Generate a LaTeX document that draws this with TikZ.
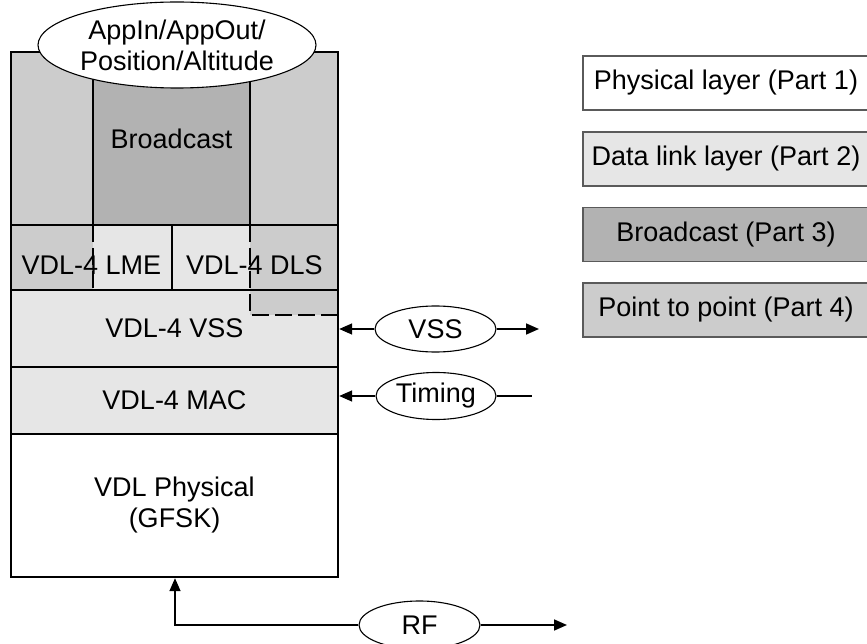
\documentclass[tikz,border=0pt]{standalone}
\usepackage{fontspec}
\setmainfont{Liberation Sans}
\usetikzlibrary{arrows.meta,shapes.geometric}
\definecolor{bcgray}{HTML}{B2B2B2}
\definecolor{ptpgray}{HTML}{CCCCCC}
\definecolor{dlgray}{HTML}{E6E6E6}
\definecolor{legline}{HTML}{5A5A5A}
\begin{document}
\begin{tikzpicture}[x=1pt,y=-1pt,
  font=\fontsize{27}{31}\selectfont,
  layer/.style={draw, line width=1.7pt, minimum width=327pt, inner sep=0pt, align=center},
  innerline/.style={line width=1.7pt},
  dashline/.style={line width=1.7pt, dash pattern=on 17pt off 6pt},
  plain/.style={inner sep=0pt},
  oval/.style={ellipse, draw, fill=white, line width=1.1pt, inner sep=0pt, align=center},
  conn/.style={line width=1.6pt, -{Triangle[length=13pt,width=11pt]}},
  wire/.style={line width=1.6pt},
  legend/.style={draw=legline, line width=1.1pt, minimum width=286pt, minimum height=54pt, inner sep=0pt}]
\useasboundingbox (0,0) rectangle (867,644);
\clip (0,0) rectangle (867,644);
% layers
\node[layer, fill=dlgray, minimum height=77pt] (vss) at (174.5,328.5) {VDL-4 VSS};
\node[layer, fill=dlgray, minimum height=67pt] (mac) at (174.5,400.5) {VDL-4 MAC};
\node[layer, fill=white, minimum height=143pt] (phys) at (174.5,505.5) {VDL Physical\\(GFSK)};
% point-to-point columns and data link cells
\fill[ptpgray] (11,52) rectangle (93,290);
\fill[ptpgray] (250,52) rectangle (338,315);
\fill[dlgray] (93,225) rectangle (250,290);
\node[draw, line width=1.7pt, fill=bcgray, minimum width=157pt, minimum height=173pt, inner sep=0pt] (bc) at (171.5,138.5) {Broadcast};
\draw[innerline] (11,225) -- (338,225);
\draw[innerline] (172,225) -- (172,290);
\draw[innerline] (11,290) -- (338,290);
\draw[dashline] (93,225) -- (93,290);
\draw[dashline] (250,225) -- (250,315) -- (338,315);
\node[plain] (lme) at (91.5,265.5) {VDL-4 LME};
\node[plain] (dls) at (254.5,265.5) {VDL-4 DLS};
% outer frame
\node[draw, line width=2.4pt, minimum width=327pt, minimum height=525pt, inner sep=0pt] (stack) at (174.5,314.5) {};
% top ellipse
\node[oval, minimum width=278pt, minimum height=86pt] (app) at (177,45) {AppIn/AppOut/\\Position/Altitude};
% side ellipses
\node[oval, minimum width=121pt, minimum height=46pt] (vsse) at (435.5,329) {VSS};
\node[oval, minimum width=120pt, minimum height=47pt] (timing) at (436,396) {Timing};
\node[oval, minimum width=121pt, minimum height=48pt] (rf) at (419.5,625) {RF};
\coordinate (vssend) at (539,329);
\coordinate (timend) at (532,396);
\coordinate (rfcorner) at (175,625);
\coordinate (rfend) at (567,625);
\draw[conn] (vsse.west) -- (vsse.west -| stack.east);
\draw[conn] (vsse.east) -- (vssend);
\draw[conn] (timing.west) -- (timing.west -| stack.east);
\draw[wire] (timing.east) -- (timend);
\draw[conn] (rf.west) -- (rfcorner) -- (rfcorner |- stack.south);
\draw[conn] (rf.east) -- (rfend);
% legend
\node[legend, fill=white] (leg1) at (726,83) {Physical layer (Part 1)};
\node[legend, fill=dlgray] (leg2) at (726,159) {Data link layer (Part 2)};
\node[legend, fill=bcgray] (leg3) at (726,234.5) {Broadcast (Part 3)};
\node[legend, fill=ptpgray] (leg4) at (726,310) {Point to point (Part 4)};
\end{tikzpicture}
\end{document}
